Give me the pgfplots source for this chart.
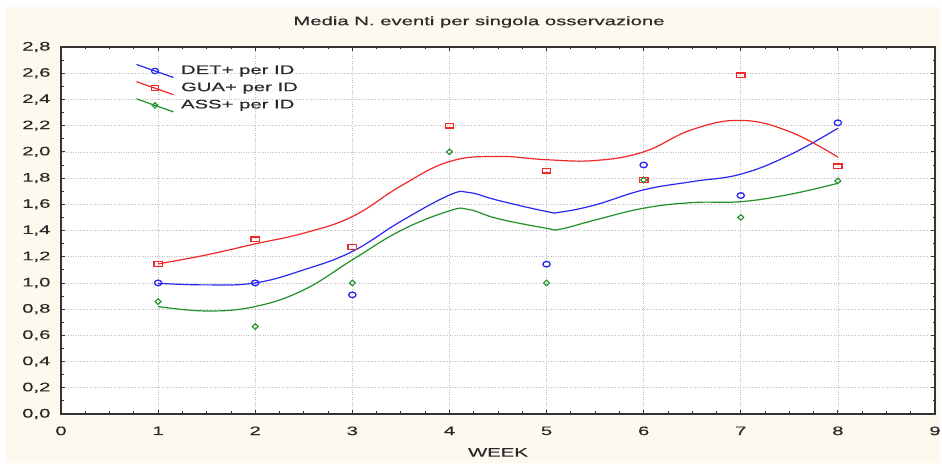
\documentclass[border=0pt]{standalone}
\usepackage{pgfplots}
\pgfplotsset{compat=1.18}
\usepackage{fontspec}
\setmainfont{Liberation Sans}[FakeStretch=1.65, FakeBold=0.4]
\definecolor{cream}{HTML}{FDF9EF}
\definecolor{txt}{HTML}{2A2A2A}
\definecolor{cblue}{HTML}{2828F0}
\definecolor{cred}{HTML}{F02828}
\definecolor{cgreen}{HTML}{209028}
\definecolor{gridc}{HTML}{BEBEBE}

\begin{document}
\begin{tikzpicture}[font=\fontsize{12.3}{14}\selectfont, text=txt]
\useasboundingbox (0,0) rectangle (942pt,465pt);
\fill[white] (0,0) rectangle (942pt,465pt);
\fill[cream] (5pt,2pt) rectangle (940pt,458pt);
\node[anchor=center] at (479pt,443pt) {Media N. eventi per singola osservazione};
\begin{axis}[
 at={(61pt,51pt)}, anchor=south west,
 scale only axis, width=874pt, height=367pt,
 xmin=0, xmax=9, ymin=0, ymax=2.8,
 xtick={0,1,2,3,4,5,6,7,8,9},
 ytick={0,0.2,0.4,0.6,0.8,1.0,1.2,1.4,1.6,1.8,2.0,2.2,2.4,2.6,2.8},
 minor x tick num=3, minor y tick num=1,
 tick align=inside, major tick length=4pt, minor tick length=2.5pt,
 axis line style={line width=1.4pt, color=black!80},
 tick style={black!80, line width=0.8pt},
 grid=major, major grid style={gridc, dotted, line width=0.7pt},
 axis background/.style={fill=white},
 xticklabel style={yshift=-9pt, /pgf/number format/assume math mode=true},
 yticklabel style={xshift=-7pt, /pgf/number format/.cd, fixed, fixed zerofill, precision=1, use comma, assume math mode=true},
 xlabel={WEEK},
 xlabel style={yshift=-6pt},
 legend style={at={(axis description cs:0.082,0.96)}, anchor=north west, draw=none, fill=none, row sep=3pt,
   nodes={inner sep=1pt, text height=9pt, text depth=3pt}},
 legend cell align=left,
 legend image code/.code={\draw[mark repeat=2,mark phase=2,#1] plot coordinates {(0pt,6.5pt) (18.5pt,0pt) (37pt,-6.5pt)};\path (43pt,0pt);},
]
% fitted curves
\addplot[cblue, line width=1.2pt, smooth, tension=0.7,
  legend image post style={mark=o, mark size=2.7pt, mark options={solid, line width=1.2pt, xscale=1.3}}]
 coordinates {(1,0.997)(1.5,0.985)(2,1.0)(2.5,1.1)(3,1.24)(3.5,1.47)(4,1.67)(4.2,1.69)(4.5,1.63)(5,1.545)(5.14,1.54)(5.5,1.595)(6,1.71)(6.5,1.773)(7,1.83)(7.5,1.975)(8,2.18)};
\addlegendentry{DET+ per ID}
\addplot[cred, line width=1.2pt, smooth, tension=0.7,
  legend image post style={mark=square, mark size=2.7pt, mark options={solid, line width=1.2pt, xscale=1.3, yscale=0.85}}]
 coordinates {(1,1.145)(1.5,1.214)(2,1.298)(2.5,1.38)(3,1.506)(3.5,1.74)(4,1.926)(4.5,1.965)(5,1.94)(5.5,1.934)(6,2.0)(6.5,2.17)(7,2.24)(7.5,2.155)(8,1.96)};
\addlegendentry{GUA+ per ID}
\addplot[cgreen, line width=1.2pt, smooth, tension=0.7,
  legend image post style={mark=diamond, mark size=2.7pt, mark options={solid, line width=1.1pt, xscale=1.3}}]
 coordinates {(1,0.82)(1.5,0.786)(2,0.82)(2.5,0.947)(3,1.176)(3.5,1.4)(4,1.55)(4.2,1.56)(4.5,1.49)(5,1.417)(5.14,1.41)(5.5,1.48)(6,1.57)(6.5,1.613)(7,1.62)(7.5,1.675)(8,1.76)};
\addlegendentry{ASS+ per ID}
% observed means (DET+ at week 4 is hidden behind the GUA+ square in the reference)
\addplot[only marks, forget plot, cblue, mark=o, mark size=2.8pt, mark options={xscale=1.3, line width=1.3pt}]
 coordinates {(1,1.0)(2,1.0)(3,0.909)(5,1.143)(6,1.9)(7,1.667)(8,2.222)};
\addplot[only marks, forget plot, cred, mark=square, mark size=3pt, mark options={xscale=1.4, yscale=0.8, line width=1.3pt}]
 coordinates {(1,1.143)(2,1.333)(3,1.273)(4,2.2)(5,1.857)(6,1.786)(7,2.583)(8,1.889)};
\addplot[only marks, forget plot, cgreen, mark=diamond, mark size=2.8pt, mark options={xscale=1.4, line width=1.1pt}]
 coordinates {(1,0.857)(2,0.667)(3,1.0)(4,2.0)(5,1.0)(6,1.786)(7,1.5)(8,1.778)};
\end{axis}
\end{tikzpicture}
\end{document}
